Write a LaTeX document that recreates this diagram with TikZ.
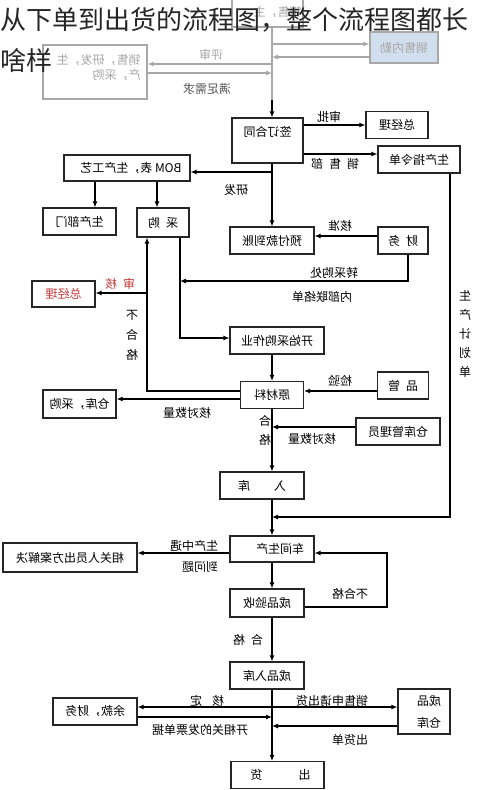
\documentclass[tikz,border=0pt]{standalone}
\usepackage{fontspec}
\setmainfont{Noto Sans CJK SC}
\usetikzlibrary{arrows.meta}
\definecolor{fadegray}{rgb}{0.66,0.66,0.66}
\definecolor{paleblue}{rgb}{0.82,0.87,0.93}
\definecolor{darkred}{rgb}{0.78,0.22,0.22}

\tikzset{
  box/.style={draw=black!85, line width=1.1pt, minimum height=27pt, inner sep=0pt},
  faded/.style={draw=fadegray},
  mir/.style={xscale=-1, inner sep=1pt, align=center, font=\fontsize{12}{15}\selectfont},
  arr/.style={-{Latex[length=6pt,width=5pt]}, line width=1.1pt},
  title/.style={anchor=west, inner sep=0pt, text=black!85, font=\fontsize{26}{30}\selectfont}
}

\begin{document}
\begin{tikzpicture}[x=1pt,y=-1pt]

\fill[white] (0,0) rectangle (482,790);
\useasboundingbox (0,0) rectangle (482,790);

% boxes
\node[box,faded,minimum width=71pt,minimum height=32pt] (boss) at (267.5,11) {};
\node[box,draw=fadegray,fill=paleblue,minimum width=68pt,minimum height=31pt] (sales) at (404,47.5) {};
\node[box,faded,minimum width=104pt,minimum height=54pt] (dept) at (95,72) {};
\node[box,minimum width=71pt,minimum height=45pt] (contract) at (267.5,140.5) {};
\node[box,minimum width=62pt] (gm1) at (397,125) {};
\node[box,minimum width=82pt] (order) at (419,159.5) {};
\node[box,minimum width=126pt,minimum height=26pt] (bom) at (127,168) {};
\node[box,minimum width=73pt] (proddept) at (79.5,221.5) {};
\node[box,minimum width=52pt,minimum height=29pt] (purch) at (163,222.5) {};
\node[box,minimum width=84pt] (prepay) at (272,240.5) {};
\node[box,minimum width=50pt] (fin) at (403,240.5) {};
\node[box,minimum width=63pt,minimum height=26pt] (gm2) at (63.5,294) {};
\node[box,minimum width=94pt] (start) at (277,340.5) {};
\node[box,minimum width=63pt] (raw) at (272,395) {};
\node[box,minimum width=51pt] (qc) at (403,385.5) {};
\node[box,minimum width=73pt,minimum height=28pt] (whpur) at (79.5,404) {};
\node[box,minimum width=84pt] (keeper) at (398,431.5) {};
\node[box,minimum width=84pt] (stock) at (262,485.5) {};
\node[box,minimum width=84pt,minimum height=26pt] (workshop) at (272,549) {};
\node[box,minimum width=134pt,minimum height=29pt] (solve) at (70,557.5) {};
\node[box,minimum width=74pt,minimum height=28pt] (inspect) at (267,603) {};
\node[box,minimum width=74pt] (fgin) at (267,675.5) {};
\node[box,minimum width=52pt,minimum height=45pt] (fgwh) at (424,711.5) {};
\node[box,minimum width=84pt] (rest) at (95,711.5) {};
\node[box,minimum width=93pt,minimum height=27pt] (ship) at (277.5,775) {};

% box texts, mirrored like the rest of the chart
\node[mir,text=fadegray] (boss-t) at ([xshift=10pt,yshift=-1pt]boss) {销售，主};
\node[mir,text=fadegray] (sales-t) at (sales) {销售内勤};
\node[mir,text=fadegray,align=left] (dept-t) at (98.5,67.5) {销售，研发，生\\产，采购};
\node[mir] (contract-t) at ([yshift=8.5pt]contract) {签订合同};
\node[mir] (gm1-t) at (gm1) {总经理};
\node[mir] (order-t) at (order) {生产指令单};
\node[mir] (bom-t) at ([xshift=4pt]bom) {BOM 表，生产工艺};
\node[mir] (proddept-t) at (proddept) {生产部门};
\node[mir] (purch-t) at (purch) {采\hspace{6pt}购};
\node[mir] (prepay-t) at (prepay) {预付款到账};
\node[mir] (fin-t) at (fin) {财\hspace{6pt}务};
\node[mir,text=darkred] (gm2-t) at (gm2) {总经理};
\node[mir] (start-t) at (start) {开始采购作业};
\node[mir] (raw-t) at (raw) {原材料};
\node[mir] (qc-t) at (qc) {品\hspace{6pt}管};
\node[mir] (whpur-t) at (whpur) {仓库，采购};
\node[mir] (keeper-t) at (keeper) {仓库管理员};
\node[mir] (stock-t) at (stock) {入\hspace{24pt}库};
\node[mir] (workshop-t) at ([xshift=8pt]workshop) {车间生产};
\node[mir] (solve-t) at (solve) {相关人员出方案解决};
\node[mir] (inspect-t) at (inspect) {成品验收};
\node[mir] (fgin-t) at (fgin) {成品入库};
\node[mir,font=\fontsize{12}{22}\selectfont] (fgwh-t) at ([xshift=5pt]fgwh) {成品\\仓库};
\node[mir] (rest-t) at (rest) {余款，财务};
\node[mir] (ship-t) at ([xshift=3pt]ship) {出\hspace{36pt}货};

% junctions
\coordinate (spine) at (272,100);
\coordinate (memo) at (180,281);
\coordinate (reject) at (147,293);
\coordinate (plan) at (450,517);
\coordinate (redo) at (387,607);

% faded part at the top
\draw[line width=1.1pt,fadegray] (boss.south -| spine) -- (spine);
\draw[arr,fadegray] (spine |- 0,44) -- (sales.west |- 0,44);
\draw[arr,fadegray] (sales.west |- 0,57) -- (spine |- 0,57);
\draw[arr,fadegray] (spine |- 0,64) -- (dept.east |- 0,64);
\draw[arr,fadegray] (dept.east |- 0,73) -- (spine |- 0,73);

% contract and purchasing
\draw[arr] (spine) -- (contract.north -| spine);
\draw[arr] (contract.east |- gm1) -- (gm1.west);
\draw[arr] (contract.east |- 0,154) -- (order.west |- 0,154);
\draw[arr] (contract.south -| spine) -- (prepay.north -| spine);
\draw[arr] (spine |- 0,172) -- (bom.east |- 0,172);
\draw[arr] (bom.south -| 95,0) -- (proddept.north -| 95,0);
\draw[arr] (bom.south -| 157,0) -- (purch.north -| 157,0);
\draw[arr] (fin.west |- 0,236) -- (prepay.east |- 0,236);
\draw[arr] ([xshift=5pt]fin.south) |- (memo);
\draw[arr] (purch.south -| memo) |- (start.west |- 0,338);
\draw[arr] (start.south -| spine) -- (raw.north -| spine);
\draw[arr] (qc.west |- 0,391) -- (raw.east |- 0,391);
\draw[arr] (raw.west |- 0,391) -| (purch.south -| reject);
\draw[arr] (reject) -- (gm2.east |- reject);
\draw[arr] (raw.west |- 0,399) -- (whpur.east |- 0,399);

% production
\draw[arr] (raw.south -| spine) -- (stock.north -| spine);
\draw[arr] (keeper.west |- 0,427) -- (spine |- 0,427);
\draw[arr] (stock.south -| spine) -- (workshop.north -| spine);
\draw[arr] (order.south -| plan) |- (spine |- plan);
\draw[arr] (workshop.west |- 0,553) -- (solve.east |- 0,553);
\draw[arr] (workshop.south -| spine) -- (inspect.north -| spine);
\draw[arr] (inspect.east |- redo) -| (redo |- 0,553) -- (workshop.east |- 0,553);
\draw[arr] (inspect.south -| spine) -- (fgin.north -| spine);

% shipping
\draw[arr] (fgin.south -| spine) -- (ship.north -| spine);
\draw[arr] (spine |- 0,707) -- (rest.east |- 0,707);
\draw[arr] (spine |- 0,707) -- (fgwh.west |- 0,707);
\draw[arr] (rest.east |- 0,717) -- (spine |- 0,717);
\draw[arr] (fgwh.west |- 0,726) -- (spine |- 0,726);

% labels on the connectors
\node[mir,text=fadegray] (l-review) at (211,55) {评审};
\node[mir,text=black!65] (l-meet) at (207,89) {满足需求};
\node[mir] (l-approve) at (329,117) {审批};
\node[mir] (l-salesdept) at (335,164) {销\hspace{6pt}售\hspace{6pt}部};
\node[mir] (l-rd) at (236,190) {研发};
\node[mir] (l-check) at (340,226) {核准};
\node[mir] (l-topurch) at (334,273) {转采购处};
\node[mir] (l-memo) at (322,297) {内部联络单};
\node[mir,text=darkred] (l-audit) at (120,284) {审\hspace{6pt}核};
\node[mir,font=\fontsize{12}{20}\selectfont] (l-fail1) at (132,335) {不\\合\\格};
\node[mir] (l-inspect) at (340,381) {检验};
\node[mir] (l-count1) at (187,413) {核对数量};
\node[mir,font=\fontsize{12}{19}\selectfont] (l-pass1) at (265,430) {合\\格};
\node[mir] (l-count2) at (312,439) {核对数量};
\node[mir,font=\fontsize{12}{19}\selectfont] (l-plan) at (465,334) {生\\产\\计\\划\\单};
\node[mir] (l-problem1) at (194,546) {生产中遇};
\node[mir] (l-problem2) at (200,567) {到问题};
\node[mir] (l-fail2) at (350,594) {不合格};
\node[mir] (l-pass2) at (248,640) {合\hspace{6pt}格};
\node[mir] (l-confirm) at (207,701) {核\hspace{10pt}定};
\node[mir] (l-request) at (332,701) {销售申请出货};
\node[mir] (l-invoice) at (200,730) {开相关的发票单据};
\node[mir] (l-slip) at (350,740) {出货单};

% caption on top
\node[title] (title1) at (0,20) {从下单到出货的流程图，整个流程图都长};
\node[title] (title2) at (0,61) {啥样};

\end{tikzpicture}
\end{document}
